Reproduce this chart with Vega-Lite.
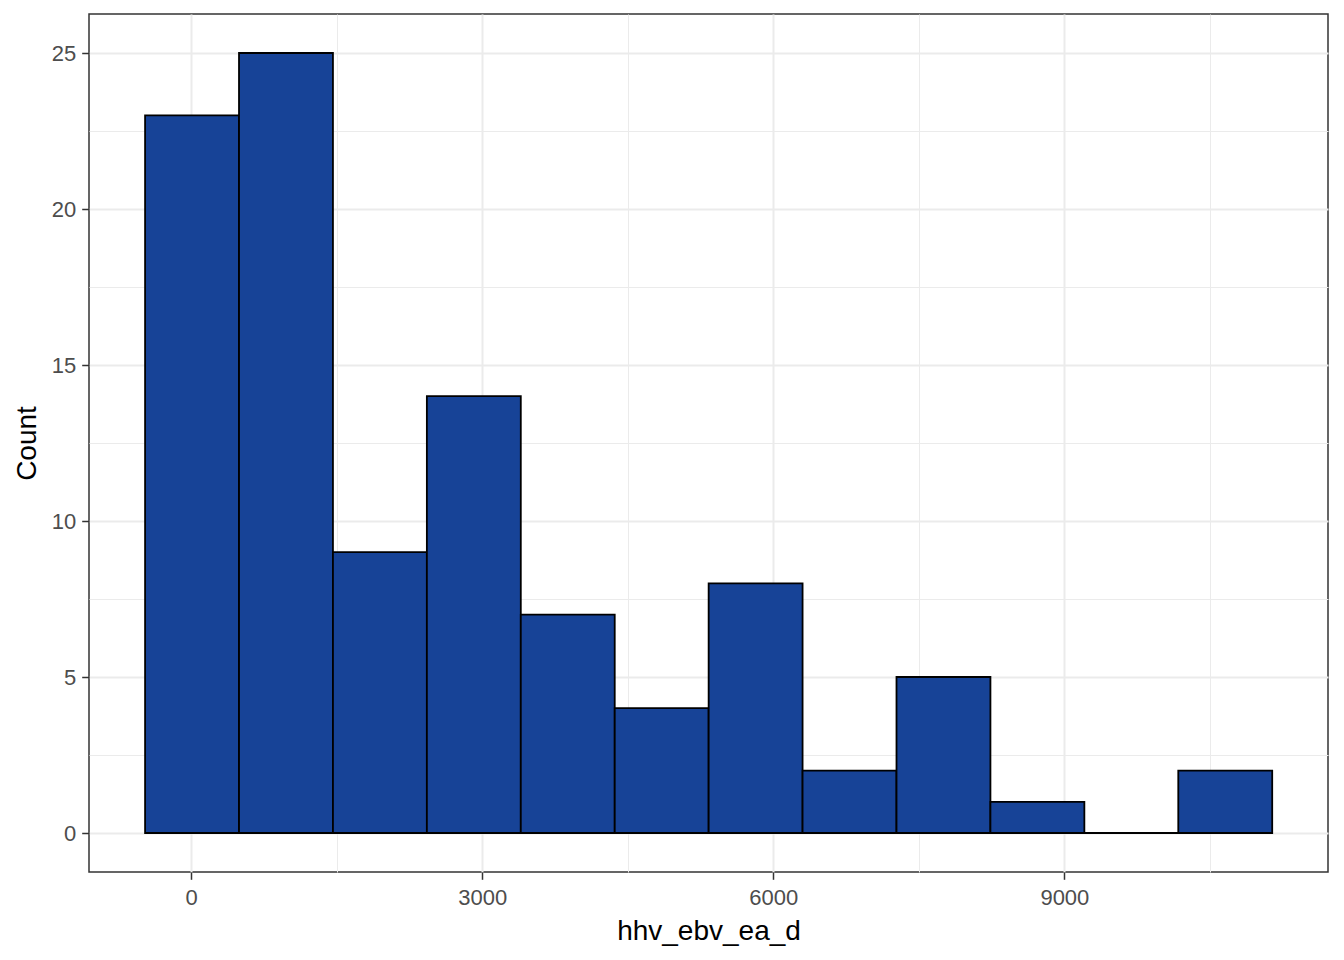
{
  "$schema": "https://vega.github.io/schema/vega-lite/v6.json",
  "width": 1239,
  "height": 858,
  "autosize": {"type": "none"},
  "padding": {"left": 89, "top": 14, "right": 16, "bottom": 88},
  "background": "white",
  "config": {
    "view": {"stroke": "#333333", "strokeWidth": 1.5},
    "font": "Liberation Sans"
  },
  "data": {
    "values": [
      {"bin_start": -474, "bin_end": 494, "count": 23},
      {"bin_start": 494, "bin_end": 1462, "count": 25},
      {"bin_start": 1462, "bin_end": 2430, "count": 9},
      {"bin_start": 2430, "bin_end": 3398, "count": 14},
      {"bin_start": 3398, "bin_end": 4366, "count": 7},
      {"bin_start": 4366, "bin_end": 5334, "count": 4},
      {"bin_start": 5334, "bin_end": 6302, "count": 8},
      {"bin_start": 6302, "bin_end": 7270, "count": 2},
      {"bin_start": 7270, "bin_end": 8238, "count": 5},
      {"bin_start": 8238, "bin_end": 9206, "count": 1},
      {"bin_start": 9206, "bin_end": 10174, "count": 0},
      {"bin_start": 10174, "bin_end": 11142, "count": 2}
    ]
  },
  "mark": {"type": "bar", "fill": "#174397", "stroke": "black", "strokeWidth": 1.8},
  "encoding": {
    "x": {
      "field": "bin_start",
      "type": "quantitative",
      "scale": {"domain": [-1052, 11717], "nice": false, "zero": false},
      "axis": {
        "values": [0, 1500, 3000, 4500, 6000, 7500, 9000, 10500],
        "format": "d",
        "labelExpr": "datum.value % 3000 === 0 ? datum.label : ''",
        "labelFlush": false,
        "labelOverlap": false,
        "labelBound": false,
        "domain": false,
        "grid": true,
        "gridColor": "#EBEBEB",
        "gridWidth": {"condition": {"test": "datum.value % 3000 === 0", "value": 2}, "value": 1},
        "tickColor": "#333333",
        "tickWidth": 1.5,
        "tickSize": 7.3,
        "tickOpacity": {"condition": {"test": "datum.value % 3000 === 0", "value": 1}, "value": 0},
        "labelFontSize": 22,
        "labelColor": "#4D4D4D",
        "labelPadding": 8,
        "title": "hhv_ebv_ea_d",
        "titleFontSize": 28,
        "titleFontWeight": "normal",
        "titleColor": "black",
        "titlePadding": 9
      }
    },
    "x2": {"field": "bin_end"},
    "y": {
      "field": "count",
      "type": "quantitative",
      "scale": {"domain": [-1.25, 26.25], "nice": false, "zero": false},
      "axis": {
        "values": [0, 2.5, 5, 7.5, 10, 12.5, 15, 17.5, 20, 22.5, 25],
        "labelExpr": "datum.value % 5 === 0 ? datum.label : ''",
        "labelOverlap": false,
        "labelFlush": false,
        "labelBound": false,
        "domain": false,
        "grid": true,
        "gridColor": "#EBEBEB",
        "gridWidth": {"condition": {"test": "datum.value % 5 === 0", "value": 2}, "value": 1},
        "tickColor": "#333333",
        "tickWidth": 1.5,
        "tickSize": 7.3,
        "tickOpacity": {"condition": {"test": "datum.value % 5 === 0", "value": 1}, "value": 0},
        "labelFontSize": 22,
        "labelColor": "#4D4D4D",
        "labelPadding": 6,
        "title": "Count",
        "titleFontSize": 28,
        "titleFontWeight": "normal",
        "titleColor": "black",
        "titlePadding": 10
      }
    },
    "y2": {"datum": 0}
  }
}
